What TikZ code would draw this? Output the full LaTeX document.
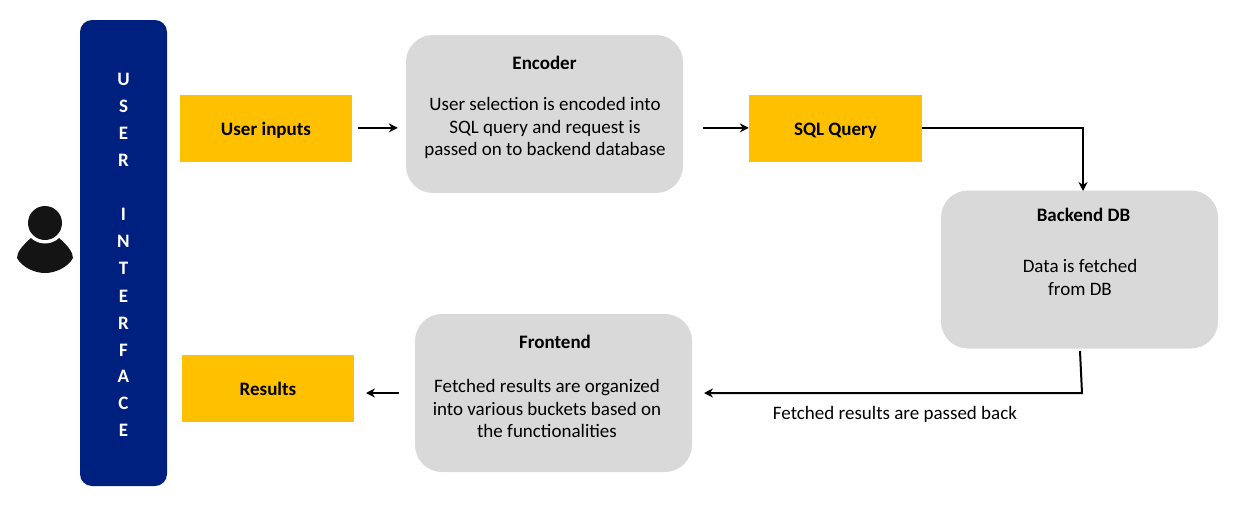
\documentclass[tikz,border=0pt]{standalone}
\usepackage{fontspec}
\setmainfont{Carlito}
\usetikzlibrary{arrows.meta}
\definecolor{navy}{RGB}{0,32,128}
\definecolor{amber}{RGB}{255,192,0}
\definecolor{panel}{RGB}{217,217,217}
\tikzset{
  yellowbox/.style={fill=amber,inner sep=0pt,font=\fontsize{19}{22}\selectfont\bfseries,text=black,text height=14pt,text depth=0pt},
  greybox/.style={fill=panel,rounded corners=27pt,inner sep=0pt,minimum width=277pt,minimum height=158pt},
  boxtitle/.style={font=\fontsize{19}{22}\selectfont\bfseries,text=black,inner sep=0pt},
  boxbody/.style={font=\fontsize{19}{22.5}\selectfont,text=black,align=center,inner sep=0pt},
  flow/.style={line width=2pt,-{Stealth[length=9pt,width=9pt]}},
  x=1pt,y=-1pt
}
\begin{document}
\begin{tikzpicture}[x=1pt,y=-1pt]
\useasboundingbox (0,0) rectangle (1235,506);
\fill[white] (0,0) rectangle (1235,506);
% person
\fill[black!92] (32,237) .. controls (22,246) and (17,252) .. (17,258) .. controls (22,267) and (34,273) .. (45,273) .. controls (56,273) and (68,267) .. (73,258) .. controls (73,252) and (68,246) .. (58,237) -- cycle;
\fill[white] (45,223) circle (20.5);
\node[circle,fill=black!92,minimum size=34pt,inner sep=0pt] (head) at (45,223) {};
% UI bar
\node[fill=navy,rounded corners=12pt,minimum width=87pt,minimum height=466pt,inner sep=0pt] (bar) at (123.5,253) {};
\foreach \ch/\yy in {U/79,S/106,E/133,R/160,I/214,N/241,T/268,E/296,R/323,F/350,A/376,C/403,E/430}{
  \node[font=\fontsize{19}{22}\selectfont\bfseries,text=white,inner sep=0pt] at (123.5,\yy) {\ch};
}
% yellow
\node[yellowbox,minimum width=172pt,minimum height=67pt] (inputs) at (266,128.5) {User inputs};
\node[yellowbox,minimum width=173pt,minimum height=67pt] (sql) at (835.5,128.5) {SQL Query};
\node[yellowbox,minimum width=172pt,minimum height=67pt] (results) at (268,388.5) {Results};
% grey
\node[greybox] (encoder) at (544.5,114) {};
\node[greybox] (backend) at (1079.5,269.5) {};
\node[greybox] (frontend) at (553.5,393) {};
\node[boxtitle] at (544.5,62.5) {Encoder};
\node[boxbody] at (545,128) {User selection is encoded into\\SQL query and request is\\passed on to backend database};
\node[boxtitle] at (1083.5,214.5) {Backend DB};
\node[boxbody] at (1080,277.5) {Data is fetched\\from DB};
\node[boxtitle] at (555,341.5) {Frontend};
\node[boxbody] at (547,408.5) {Fetched results are organized\\into various buckets based on\\the functionalities};
% connectors
\draw[flow,shorten <=6pt,shorten >=8pt] ([yshift=.6pt]inputs.east) -- ([yshift=.6pt]encoder.west |- inputs.east);
\draw[flow,shorten <=20pt,shorten >=0pt] ([yshift=.6pt]encoder.east |- sql.west) -- ([yshift=.6pt]sql.west);
\draw[flow] ([yshift=.6pt]sql.east) -| (1083,191);
\coordinate (dropstart) at (1080,351);
\coordinate (dropend) at (1082,393);
\draw[flow] (dropstart) -- (dropend) -- (704,393);
\draw[flow] (399,393) -- (366,393);
\node[font=\fontsize{19}{22}\selectfont,text=black,inner sep=0pt] (passed) at (895,414) {Fetched results are passed back};
\end{tikzpicture}
\end{document}
